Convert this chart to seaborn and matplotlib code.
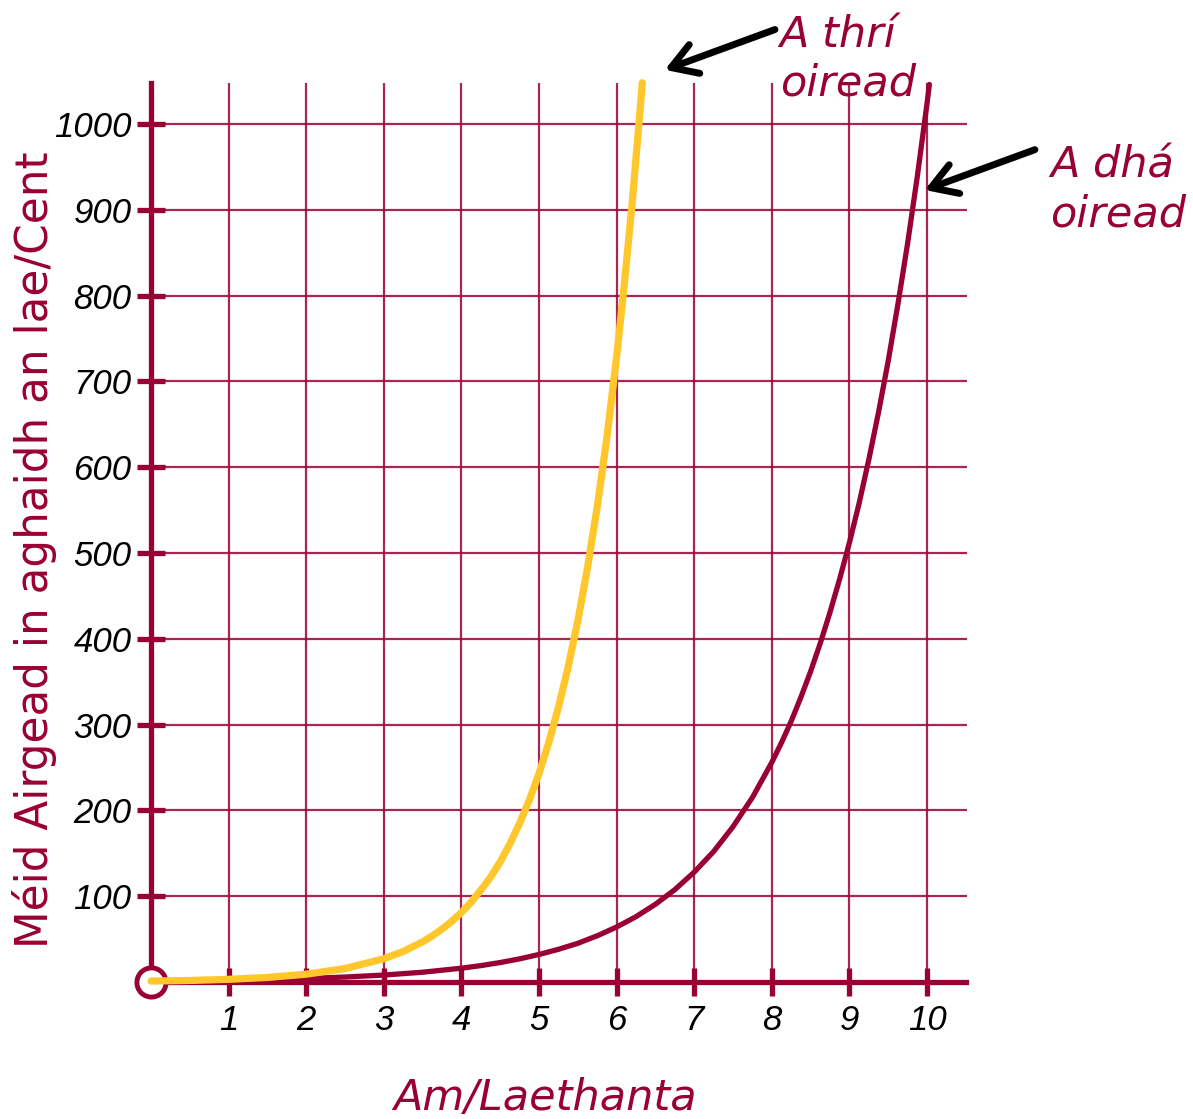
"""Doubling vs tripling pocket money chart"""

import matplotlib
matplotlib.use("Agg")
import matplotlib.pyplot as plt
import seaborn as sns


MAROON = "#990033"
YELLOW = "#FFC72C"

# values
days_three = [0, 0.5, 1, 1.5, 2, 2.5, 3, 3.25, 3.5, 3.625, 3.75, 3.875, 4,
              4.125, 4.25, 4.375, 4.5, 4.625, 4.75, 4.875, 5, 5.125, 5.25,
              5.375, 5.5, 5.625, 5.75, 5.875, 6, 6.1, 6.2, 6.3, 6.33]
cent_three = [1, 1.7, 3, 5.2, 9, 15.6, 27, 35.5, 46.8, 53.6, 61.6, 70.6, 81,
              92.9, 107, 122, 140, 161, 185, 212, 243, 279, 320,
              367, 421, 483, 554, 635, 729, 814, 908, 1014, 1048]

days_two = [0, 0.5, 1, 1.5, 2, 2.5, 3, 3.5, 4, 4.25, 4.5, 4.75, 5, 5.25, 5.5,
            5.75, 6, 6.25, 6.5, 6.75, 7, 7.25, 7.5, 7.75, 8, 8.125, 8.25,
            8.375, 8.5, 8.625, 8.75, 8.875, 9, 9.125, 9.25, 9.375, 9.5,
            9.625, 9.75, 9.875, 10, 10.03]
cent_two = [1, 1.4, 2, 2.8, 4, 5.7, 8, 11.3, 16, 19, 22.6, 26.9, 32, 38, 45,
            53.8, 64, 76.1, 90.5, 107.6, 128, 152, 181, 215, 256, 279, 304,
            332, 362, 395, 431, 470, 512, 558, 609, 664, 724,
            790, 861, 939, 1024, 1046]

x_ticks = [1, 2, 3, 4, 5, 6, 7, 8, 9, 10]
y_ticks = [100, 200, 300, 400, 500, 600, 700, 800, 900, 1000]

y_label = "Méid Airgead in aghaidh an lae/Cent"
x_label = "Am/Laethanta"
label_three = "A thrí\noiread"
label_two = "A dhá\noiread"


sns.set_style("white")
plt.rcParams['font.family'] = ['DejaVu Sans']

fig = plt.figure(figsize=(11.93, 11.19), dpi=100)
ax = fig.add_axes([0.0941, 0.0880, 0.7220, 0.8396])
ax.set_xlim(-0.5, 10.6)
ax.set_ylim(-45, 1050)

# grid
ax.vlines(x_ticks, 0, 1048, color=MAROON, lw=1.6, alpha=0.85, zorder=1)
ax.hlines(y_ticks, 0, 10.52, color=MAROON, lw=1.6, alpha=0.85, zorder=1)

# axes through the origin
for side in ['top', 'right']:
    ax.spines[side].set_visible(False)
for side in ['left', 'bottom']:
    ax.spines[side].set_position(('data', 0))
    ax.spines[side].set_color(MAROON)
    ax.spines[side].set_linewidth(3.8)
ax.spines['left'].set_bounds(0, 1048)
ax.spines['bottom'].set_bounds(0, 10.5)

ax.set_xticks(x_ticks)
ax.set_yticks(y_ticks)
ax.tick_params(bottom=True, left=True, direction='inout', length=20,
               width=3.8, color=MAROON, labelcolor='black', labelsize=25)
ax.tick_params(axis='y', pad=4)
ax.tick_params(axis='x', pad=6)
for lab in ax.get_xticklabels() + ax.get_yticklabels():
    lab.set_fontfamily('Liberation Sans')
    lab.set_fontstyle('italic')

# curves
sns.lineplot(x=days_two, y=cent_two, ax=ax, color=MAROON, lw=3.8,
             zorder=4, clip_on=False)
sns.lineplot(x=days_three, y=cent_three, ax=ax, color=YELLOW, lw=5.2,
             zorder=5, clip_on=False)

# origin circle
ax.plot([0], [0], 'o', ms=21, mfc='white', mec=MAROON, mew=3.5,
        zorder=3, clip_on=False)

# arrows and labels
arrow = dict(arrowstyle='->, head_length=0.9, head_width=0.55', lw=5,
             color='black', mutation_scale=20, shrinkA=0, shrinkB=0)
ax.annotate('', xy=(6.62, 1063), xytext=(8.04, 1110), arrowprops=arrow,
            annotation_clip=False)
ax.annotate('', xy=(9.97, 923), xytext=(11.39, 970), arrowprops=arrow,
            annotation_clip=False)
ax.text(8.1, 1075, label_three, color=MAROON, fontsize=31, style='italic',
        va='center', ha='left', clip_on=False)
ax.text(11.59, 923, label_two, color=MAROON, fontsize=31, style='italic',
        va='center', ha='left', clip_on=False)

fig.text(35 / 1193, 1 - 550 / 1119, y_label, color=MAROON, fontsize=31.5,
         rotation=90, ha='center', va='center')
fig.text(545 / 1193, 1 - 1098 / 1119, x_label, color=MAROON, fontsize=31,
         style='italic', ha='center', va='center')

fig.savefig("out.png", dpi=100)
